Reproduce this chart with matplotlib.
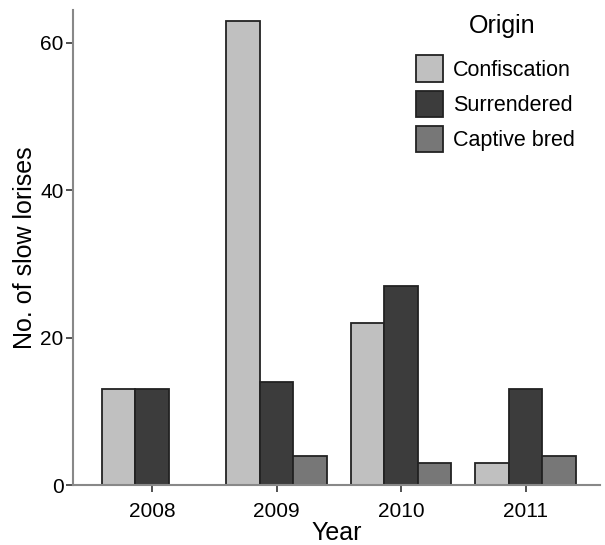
import numpy as np
import matplotlib.pyplot as plt

plt.rcParams['font.family'] = ['Liberation Sans', 'DejaVu Sans']

years = ["2008", "2009", "2010", "2011"]
confiscation = [13, 63, 22, 3]
surrendered = [13, 14, 27, 13]
captive_bred = [0, 4, 3, 4]

series = [("Confiscation", confiscation, "#c0c0c0"),
          ("Surrendered", surrendered, "#3c3c3c"),
          ("Captive bred", captive_bred, "#777777")]

fig = plt.figure(figsize=(6.05, 5.45), dpi=100)
ax = fig.add_axes([0.121, 0.110, 0.871, 0.872])

x = np.arange(len(years))
w = 0.27
for i, (name, vals, col) in enumerate(series):
    ax.bar(x + (i - 1) * w, vals, width=w, color=col, edgecolor="#222222",
           linewidth=1.3, label=name)

ax.set_xlim(-0.635, 3.6)
ax.set_ylim(0, 64.5)
ax.set_yticks([0, 20, 40, 60])
ax.set_xticks(x)
ax.set_xticklabels(years)
ax.tick_params(labelsize=15, length=5, width=1.2, color="#333333")
ax.tick_params(axis="x", pad=7)
ax.tick_params(axis="y", pad=2)
for s in ["top", "right"]:
    ax.spines[s].set_visible(False)
for s in ["left", "bottom"]:
    ax.spines[s].set_color("#888888")
    ax.spines[s].set_linewidth(1.5)

ax.set_xlabel("Year", fontsize=18, labelpad=0)
ax.set_ylabel("No. of slow lorises", fontsize=18, labelpad=2)

# legend title placed separately so its gap to the entries can be set
ax.text(0.814, 0.966, "Origin", transform=ax.transAxes, fontsize=18,
        ha="center", va="center")
leg = ax.legend(loc="upper left", frameon=False, fontsize=15.5,
                handlelength=1.25, handleheight=1.5,
                handletextpad=0.45, labelspacing=0.42,
                borderpad=0, borderaxespad=0,
                bbox_to_anchor=(0.651, 0.904))

fig.savefig("out.png", dpi=100)
